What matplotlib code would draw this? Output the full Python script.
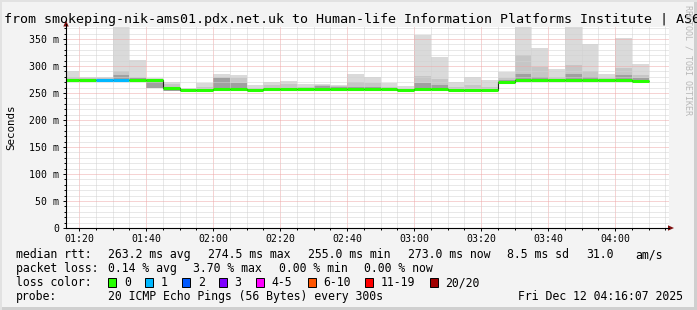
import numpy as np
import matplotlib
matplotlib.use('Agg')
import matplotlib.pyplot as plt
from matplotlib.patches import Rectangle, Polygon
from matplotlib.lines import Line2D

# --- data (5 minute bins, times are bin start) ---
bin_start = ['01:15', '01:20', '01:25', '01:30', '01:35', '01:40', '01:45', '01:50', '01:55',
             '02:00', '02:05', '02:10', '02:15', '02:20', '02:25', '02:30', '02:35', '02:40',
             '02:45', '02:50', '02:55', '03:00', '03:05', '03:10', '03:15', '03:20', '03:25',
             '03:30', '03:35', '03:40', '03:45', '03:50', '03:55', '04:00', '04:05']
median = [273.5, 273.5, 273.5, 273.5, 273.5, 274.5, 260.0, 255.0, 255.5,
          257.0, 257.0, 255.0, 256.8, 256.8, 256.8, 256.8, 256.8, 256.8,
          258.0, 256.8, 255.0, 258.0, 256.8, 255.0, 255.0, 255.0, 270.0,
          273.5, 273.5, 273.5, 274.5, 273.5, 273.5, 273.5, 273.0]
ping_max = [290, 280, 280, 380, 311, 277, 270, 259, 269,
            286, 284, 264, 271, 272, 267, 266, 265, 285,
            280, 268, 263, 357, 317, 271, 280, 274, 288,
            380, 333, 294, 380, 340, 286, 351, 304]
ping_mid = [280, 277, 278, 290, 280, 276, 266, 257, 262,
            280, 277, 260, 264, 266, 262, 264, 263, 270,
            268, 262, 258, 282, 275, 262, 265, 262, 278,
            320, 298, 280, 302, 290, 278, 296, 284]
ping_inner = [276, 275, 276, 284, 277, 275, 262, 256, 258,
              277, 268, 257, 259, 260, 258, 263, 262, 262,
              262, 258, 256, 268, 264, 257, 257, 257, 274,
              285, 280, 276, 285, 280, 276, 284, 278]
ping_min = [272, 272, 272, 272, 272, 258.7, 254, 253, 254,
            255, 255, 254, 255, 255, 255, 255, 255, 255,
            256, 255, 254, 256, 255, 254, 254, 254, 268,
            272, 272, 272, 272, 272, 272, 272, 272]
loss = [0, 0, 1, 1, 0, 0, 0, 0, 0,
        0, 0, 0, 0, 0, 0, 0, 0, 0,
        0, 0, 0, 0, 0, 0, 0, 0, 0,
        0, 0, 0, 0, 0, 0, 0, 0]

loss_labels = ['0', '1', '2', '3', '4-5', '6-10', '11-19', '20/20']
loss_colors = ['#26ff00', '#00b8ff', '#0059ff', '#7e00ff', '#ff00ff', '#ff5500', '#ff0000', '#a10000']

title = 'from smokeping-nik-ams01.pdx.net.uk to Human-life Information Platforms Institute | AS6'
rtt_stats = ['263.2 ms avg', '274.5 ms max', '255.0 ms min', '273.0 ms now', '8.5 ms sd', '31.0', 'am/s']
loss_stats = ['0.14 % avg', '3.70 % max', '0.00 % min', '0.00 % now']
probe_text = '20 ICMP Echo Pings (56 Bytes) every 300s'
stamp = 'Fri Dec 12 04:16:07 2025'

tick_pos = ['01:20', '01:40', '02:00', '02:20', '02:40', '03:00', '03:20', '03:40', '04:00']


def to_min(s):
    h, m = s.split(':')
    return int(h) * 60 + int(m)


W, H = 697, 310
mono = 'DejaVu Sans Mono'


def fx(x):
    return x / W


def fy(y):
    return 1 - y / H


fig = plt.figure(figsize=(W / 100, H / 100), dpi=100, facecolor='#f3f3f3')

ax = fig.add_axes([fx(66), fy(228), (669 - 66) / W, (228 - 27) / H])
ax.set_facecolor('white')

starts = np.array([to_min(s) for s in bin_start], dtype=float)
edges = np.append(starts, starts[-1] + 5)

ax.stairs(ping_max, edges, baseline=ping_min, fill=True, color='#dadada', zorder=1)
ax.stairs(ping_mid, edges, baseline=ping_min, fill=True, color='#c6c6c6', zorder=1.1)
ax.stairs(ping_inner, edges, baseline=ping_min, fill=True, color='#a0a0a0', zorder=1.2)

# thin dark trace of the median, then the loss coloured median segments
ax.stairs(median, edges, baseline=None, color='#202020', lw=0.8, zorder=3)
for i in range(len(median)):
    ax.hlines(median[i], edges[i], edges[i + 1], color=loss_colors[loss[i]], lw=2.2, zorder=3.5)

ax.set_xlim(to_min('01:16') + 7 / 60, to_min('04:16') + 7 / 60)
ax.set_ylim(0, 372.2)

ax.set_yticks(np.arange(0, 351, 50))
ax.set_yticklabels(['0'] + ['%d m' % v for v in range(50, 351, 50)])
ax.set_yticks(np.arange(0, 372, 10), minor=True)
ax.set_xticks([to_min(t) for t in tick_pos])
ax.set_xticklabels(tick_pos)
ax.set_xticks(np.arange(to_min('01:20'), to_min('04:16'), 5), minor=True)

ax.tick_params(which='major', length=2.2, width=0.7, pad=2.6, labelsize=7.1, color='black')
ax.tick_params(which='minor', length=1.4, width=0.7, color='black')
ax.tick_params(axis='x', which='major', pad=2.4)
for lab in ax.get_xticklabels() + ax.get_yticklabels():
    lab.set_family(mono)

ax.set_axisbelow(False)
ax.grid(which='minor', color='#d2d2d2', lw=0.72, ls=(0, (1, 1)))
ax.grid(which='major', color='#eea8a8', lw=0.72, ls=(0, (1, 1)))

for s in ['top', 'right', 'left', 'bottom']:
    ax.spines[s].set_visible(False)

# axis lines with the rrdtool arrows
fig.add_artist(Line2D([fx(66), fx(66)], [fy(228), fy(24)], color='black', lw=0.8))
fig.add_artist(Line2D([fx(66), fx(669)], [fy(228), fy(228)], color='black', lw=0.8))
fig.add_artist(Polygon([[fx(63.3), fy(26.5)], [fx(68.7), fy(26.5)], [fx(66), fy(20.5)]],
                       closed=True, color='#7f1010', lw=0))
fig.add_artist(Polygon([[fx(668), fy(225.3)], [fx(668), fy(230.7)], [fx(674), fy(228)]],
                       closed=True, color='#7f1010', lw=0))

# frame
fig.add_artist(Rectangle((0, fy(310)), fx(697), fy(307) - fy(310), color='#cfcfcf', lw=0))
fig.add_artist(Rectangle((fx(694), 0), fx(3), 1, color='#cfcfcf', lw=0))
fig.add_artist(Rectangle((0, fy(2)), 1, fy(0) - fy(2), color='#e2e2e2', lw=0))
fig.add_artist(Rectangle((0, 0), fx(2), 1, color='#e2e2e2', lw=0))

# texts
fig.text(fx(4), fy(23.5), title, family=mono, fontsize=9.6, va='baseline', ha='left', color='black')
fig.text(fx(11), fy(127), 'Seconds', family=mono, fontsize=7.8, rotation=90, va='center', ha='center')
fig.text(fx(688), fy(5), 'RRDTOOL / TOBI OETIKER', family=mono, fontsize=6.0, rotation=270,
         va='top', ha='center', color='#b8b8b8')

fs = 8.3
fig.text(fx(16), fy(258), 'median rtt:', family=mono, fontsize=fs, va='baseline')
for txt, x in zip(rtt_stats, [107.6, 208, 308, 408, 506.7, 586, 635]):
    fig.text(fx(x), fy(258), txt, family=mono, fontsize=fs, va='baseline')

fig.text(fx(16), fy(272), 'packet loss:', family=mono, fontsize=fs, va='baseline')
for txt, x in zip(loss_stats, [107.6, 193.5, 279, 364.4]):
    fig.text(fx(x), fy(272), txt, family=mono, fontsize=fs, va='baseline')

fig.text(fx(16), fy(286), 'loss color:', family=mono, fontsize=fs, va='baseline')
box_x = [108.4, 145.3, 182.2, 219, 256.4, 307.6, 365.3, 429.8]
for lab, col, x in zip(loss_labels, loss_colors, box_x):
    fig.add_artist(Rectangle((fx(x), fy(286.7)), 8 / W, 9 / H, facecolor=col,
                             edgecolor='black', lw=0.7))
    fig.text(fx(x + 15.5), fy(286), lab, family=mono, fontsize=fs, va='baseline')

fig.text(fx(16), fy(300), 'probe:', family=mono, fontsize=fs, va='baseline')
fig.text(fx(107.6), fy(300), probe_text, family=mono, fontsize=fs, va='baseline')
fig.text(fx(683), fy(300), stamp, family=mono, fontsize=fs, va='baseline', ha='right')

fig.savefig('out.png', dpi=100, facecolor=fig.get_facecolor())
